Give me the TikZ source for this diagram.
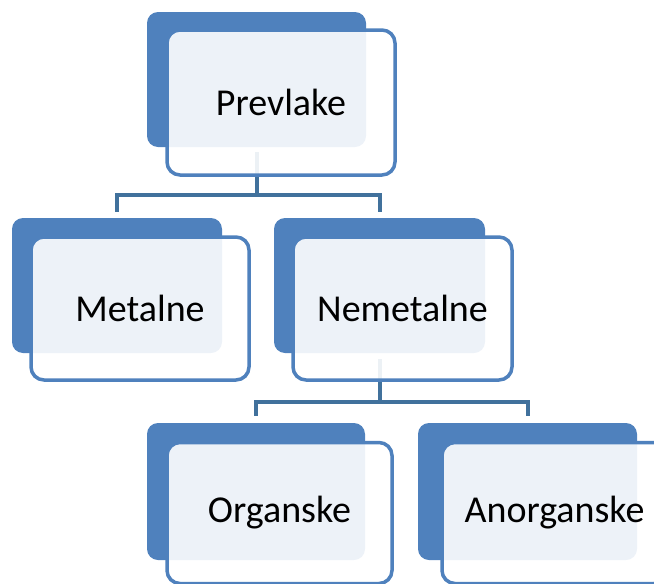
\documentclass[tikz,border=0pt]{standalone}
\usepackage{fontspec}
\setmainfont{Carlito}
\definecolor{dblue}{HTML}{4F81BD}
\definecolor{cblue}{HTML}{41719C}
\begin{document}
\begin{tikzpicture}[x=1pt,y=-1pt,
  backbox/.style={fill=dblue, draw=none, rounded corners=11pt, inner sep=0pt},
  frontbox/.style={fill=white, fill opacity=0.9, text opacity=1, draw=dblue, line width=3.5pt, rounded corners=13pt, inner sep=0pt, font=\fontsize{38}{45}\selectfont, text=black},
  conn/.style={draw=cblue, line width=4pt}]
\clip (0,0) rectangle (654,584);
% back boxes
\node[backbox, minimum width=219pt, minimum height=135pt] (prevB) at (256.5,79.5) {};
\node[backbox, minimum width=210pt, minimum height=135pt] (metB) at (117,285.5) {};
\node[backbox, minimum width=211pt, minimum height=135pt] (nemB) at (379.5,285.5) {};
\node[backbox, minimum width=218pt, minimum height=137pt] (orgB) at (256,491.5) {};
\node[backbox, minimum width=219pt, minimum height=137pt] (anoB) at (527.5,491.5) {};
% connectors
\coordinate (j1) at ([yshift=-48pt]prevB.south);
\draw[conn] ([yshift=-5pt]prevB.south) -- (j1);
\draw[conn] ([yshift=6pt]metB.north) |- (j1) -| ([yshift=6pt]nemB.north);
\coordinate (j2) at ([yshift=-49pt]nemB.south);
\draw[conn] ([yshift=-6pt]nemB.south) -- (j2);
\draw[conn] ([yshift=7pt]orgB.north) |- (j2) -| ([yshift=7pt]anoB.north);
% front boxes
\node[frontbox, minimum width=228pt, minimum height=145pt] (prev) at (281,102.5) {Prevlake};
\node[frontbox, minimum width=218pt, minimum height=143pt] (met) at (140,308.5) {Metalne};
\node[frontbox, minimum width=219pt, minimum height=143pt] (nem) at (402.5,308.5) {Nemetalne};
\node[frontbox, minimum width=225pt, minimum height=141pt] (org) at (279.5,513) {Organske};
\node[frontbox, minimum width=225pt, minimum height=141pt] (ano) at (554.5,513) {Anorganske};
\end{tikzpicture}
\end{document}
